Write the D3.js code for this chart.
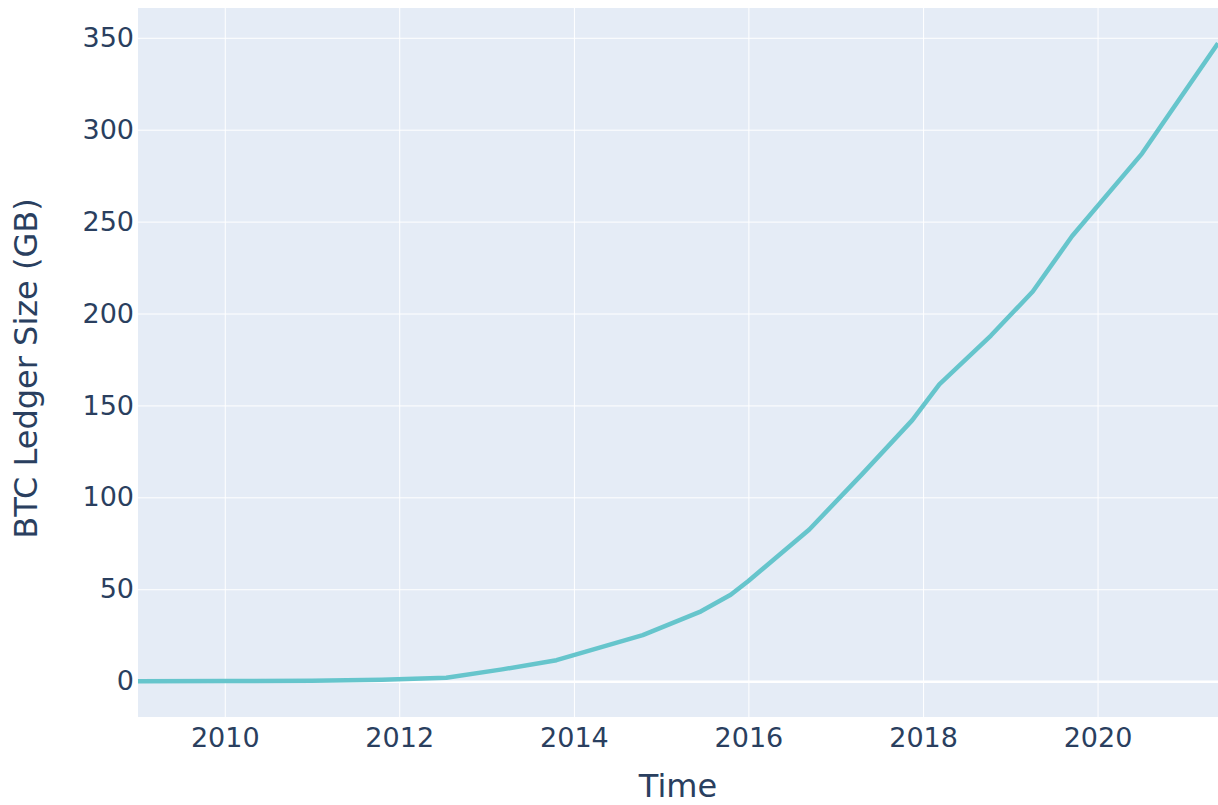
<!DOCTYPE html>
<html>
<head>
<meta charset="utf-8">
<script src="https://cdn.jsdelivr.net/npm/d3@7"></script>
<style>
  html, body { margin: 0; padding: 0; background: #fff; }
  svg text { font-family: "DejaVu Sans", Verdana, sans-serif; fill: #2a3f5f; }
</style>
</head>
<body>
<svg id="chart" width="1218" height="805"></svg>
<script>
// Ledger size samples
const dates = [
  "2009-01-03", "2010-01-01", "2011-01-01", "2011-10-20", "2012-07-16",
  "2013-03-07", "2013-10-20", "2014-10-16", "2015-06-17", "2015-10-19",
  "2016-01-01", "2016-09-12", "2017-04-20", "2017-11-17", "2018-03-10",
  "2018-10-12", "2019-04-05", "2019-09-16", "2020-07-05", "2021-05-19"
];
const sizesGB = [
  0, 0.02, 0.2, 0.7, 1.8,
  6.4, 11.4, 25, 38, 47,
  54.5, 82.5, 112.5, 142, 161.5,
  188, 212, 242, 287, 347
];
const yTicks = [0, 50, 100, 150, 200, 250, 300, 350];
const xTickYears = [2010, 2012, 2014, 2016, 2018, 2020];

function drawChart() {
  const width = 1218, height = 805;
  const margin = { top: 8, right: 0, bottom: 88, left: 138 };
  const innerW = width - margin.left - margin.right;
  const innerH = height - margin.top - margin.bottom;

  const parse = d3.timeParse("%Y-%m-%d");
  const data = dates.map((d, i) => ({ date: parse(d), value: sizesGB[i] }));

  const svg = d3.select("#chart");
  const g = svg.append("g")
    .attr("transform", `translate(${margin.left},${margin.top})`);

  const x = d3.scaleTime()
    .domain(d3.extent(data, d => d.date))
    .range([0, innerW]);

  const y = d3.scaleLinear()
    .domain([-19.5, 366.2])
    .range([innerH, 0]);

  // plot background
  g.append("rect")
    .attr("width", innerW)
    .attr("height", innerH)
    .attr("fill", "#e5ecf6");

  // x grid + labels
  const xTicks = xTickYears.map(yr => new Date(yr, 0, 1));
  const xAxis = g.append("g")
    .attr("transform", `translate(0,${innerH})`)
    .call(d3.axisBottom(x).tickValues(xTicks).tickFormat(d3.timeFormat("%Y"))
      .tickSize(-innerH).tickPadding(0));
  xAxis.select(".domain").remove();
  xAxis.selectAll(".tick line").attr("stroke", "#fff").attr("stroke-width", 1);
  xAxis.selectAll(".tick text")
    .attr("font-size", 27)
    .attr("dy", null)
    .attr("y", 30);

  // y grid + labels
  const yAxis = g.append("g")
    .call(d3.axisLeft(y).tickValues(yTicks).tickFormat(d3.format("d"))
      .tickSize(-innerW).tickPadding(4));
  yAxis.select(".domain").remove();
  yAxis.selectAll(".tick line")
    .attr("stroke", "#fff")
    .attr("stroke-width", d => d === 0 ? 2.5 : 1);
  yAxis.selectAll(".tick text").attr("font-size", 27);

  // the series line
  const line = d3.line()
    .x(d => x(d.date))
    .y(d => y(d.value));

  g.append("path")
    .datum(data)
    .attr("fill", "none")
    .attr("stroke", "rgb(102,197,204)")
    .attr("stroke-width", 4.5)
    .attr("stroke-linejoin", "round")
    .attr("d", line);

  // axis titles
  svg.append("text")
    .attr("x", margin.left + innerW / 2)
    .attr("y", 797)
    .attr("text-anchor", "middle")
    .attr("font-size", 32)
    .text("Time");

  svg.append("text")
    .attr("transform", `translate(37,${margin.top + innerH / 2 + 6}) rotate(-90)`)
    .attr("text-anchor", "middle")
    .attr("font-size", 32)
    .text("BTC Ledger Size (GB)");
}

drawChart();
</script>
</body>
</html>
